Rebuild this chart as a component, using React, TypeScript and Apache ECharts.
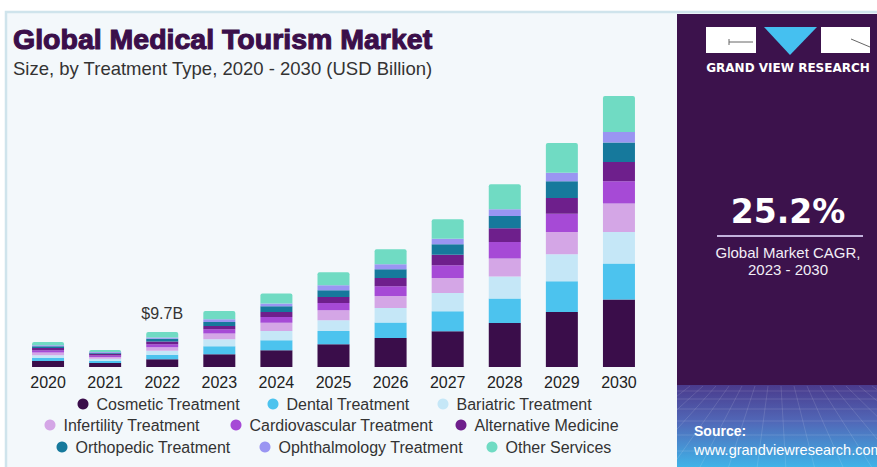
import React, { useEffect, useRef } from "react";
import * as echarts from "echarts";

const years = ["2020", "2021", "2022", "2023", "2024", "2025", "2026", "2027", "2028", "2029", "2030"];

const seriesNames = [
  "Cosmetic Treatment",
  "Dental Treatment",
  "Bariatric Treatment",
  "Infertility Treatment",
  "Cardiovascular Treatment",
  "Alternative Medicine",
  "Orthopedic Treatment",
  "Ophthalmology Treatment",
  "Other Services",
];

const cosmetic = [1.66, 1.11, 2.13, 3.52, 4.63, 6.29, 8.04, 9.89, 12.2, 15.24, 18.68];
const dental = [0.83, 0.64, 1.25, 2.22, 2.77, 3.69, 4.27, 5.54, 6.82, 8.51, 9.98];
const bariatric = [0.75, 0.55, 1.11, 1.94, 2.58, 2.97, 4.05, 5.07, 6.1, 7.48, 8.76];
const infertility = [0.75, 0.5, 0.97, 1.58, 2.3, 2.77, 3.33, 4.16, 4.99, 6.18, 7.87];
const cardiovascular = [0.64, 0.42, 0.83, 1.19, 1.58, 2.02, 2.69, 3.52, 4.52, 5.1, 6.18];
const alternative = [0.64, 0.42, 0.78, 0.91, 1.39, 1.66, 2.3, 2.97, 3.8, 4.32, 5.35];
const orthopedic = [0.47, 0.33, 0.75, 1.11, 1.58, 1.86, 2.41, 2.85, 3.41, 4.63, 5.38];
const ophthalmology = [0.28, 0.22, 0.36, 0.75, 0.75, 1.39, 1.39, 1.58, 1.86, 2.41, 2.94];
const otherServices = [0.91, 0.53, 1.52, 2.3, 2.77, 3.6, 4.16, 5.35, 6.93, 8.2, 9.98];

const seriesValues = [
  cosmetic,
  dental,
  bariatric,
  infertility,
  cardiovascular,
  alternative,
  orthopedic,
  ophthalmology,
  otherServices,
];

const colors = [
  "#3a0d4a",
  "#4cc3ee",
  "#c5e7f7",
  "#d4a6e6",
  "#a64ad6",
  "#6e1f8c",
  "#16799c",
  "#9a95f2",
  "#70dbc3",
];

const calloutText = "$9.7B";
const calloutIndex = 2;

const titleText = "Global Medical Tourism Market";
const subtitleText = "Size, by Treatment Type, 2020 - 2030 (USD Billion)";
const cagrValue = "25.2%";
const cagrLine1 = "Global Market CAGR,";
const cagrLine2 = "2023 - 2030";
const brandText = "GRAND VIEW RESEARCH";
const sourceLabel = "Source:";
const sourceUrl = "www.grandviewresearch.com";

const legendPos = [
  [83, 404],
  [273, 404],
  [443, 404],
  [50, 425],
  [236, 425],
  [461, 425],
  [62, 447],
  [265, 447],
  [492, 447],
];

export default function App() {
  const ref = useRef<HTMLDivElement>(null);

  useEffect(() => {
    if (!ref.current) return;
    const chart = echarts.init(ref.current, undefined, { renderer: "svg" });

    const series = seriesNames.map((name, i) => {
      const isTop = i === seriesNames.length - 1;
      const data = seriesValues[i].map((v, j) =>
        isTop && j === calloutIndex
          ? {
              value: v,
              label: {
                show: true,
                position: "top",
                formatter: calloutText,
                distance: 11,
                fontSize: 16,
                color: "#333333",
                fontFamily: "Liberation Sans",
              },
            }
          : v
      );
      return {
        type: "bar",
        name,
        stack: "total",
        data,
        barWidth: 32,
        itemStyle: {
          color: colors[i],
          borderRadius: isTop ? [2, 2, 0, 0] : 0,
        },
        emphasis: { disabled: true },
      };
    });

    const legends = seriesNames.map((name, i) => ({
      data: [name],
      left: legendPos[i][0] - 5.5,
      top: legendPos[i][1] - 8,
      padding: 0,
      itemWidth: 11,
      itemHeight: 11,
      icon: "circle",
      selectedMode: false,
      textStyle: {
        fontSize: 16,
        color: "#333333",
        fontFamily: "Liberation Sans",
        lineHeight: 16,
        padding: [0, 0, 0, 3],
      },
    }));

    const gridLines: any[] = [];
    const hy = [391, 399, 409, 421, 435, 451];
    hy.forEach((y) =>
      gridLines.push({
        type: "line",
        shape: { x1: 677, y1: y, x2: 877, y2: y },
        style: { stroke: "rgba(255,255,255,0.13)", lineWidth: 1 },
        z: 1,
      })
    );
    for (let k = 0; k <= 14; k++) {
      const xt = 690 + k * 13;
      const xb = 777 + (xt - 777) * 2.2;
      gridLines.push({
        type: "line",
        shape: { x1: xt, y1: 386, x2: xb, y2: 467 },
        style: { stroke: "rgba(255,255,255,0.12)", lineWidth: 1 },
        z: 1,
      });
    }

    const graphic: any[] = [
      { type: "rect", shape: { x: 0, y: 0, width: 877, height: 467 }, style: { fill: "#ffffff" }, z: -20 },
      {
        type: "rect",
        shape: { x: 6, y: 12, width: 875, height: 460 },
        style: { fill: "#f3f8fb", stroke: "#cfe4ec", lineWidth: 2.5 },
        z: -19,
      },
      { type: "rect", shape: { x: 677, y: 14, width: 200, height: 372 }, style: { fill: "#3c124c" }, z: -18 },
      {
        type: "rect",
        shape: { x: 677, y: 385, width: 200, height: 82 },
        style: {
          fill: new echarts.graphic.LinearGradient(0, 0, 0, 1, [
            { offset: 0, color: "#4a3a8c" },
            { offset: 0.45, color: "#5168b8" },
            { offset: 1, color: "#3fb3e8" },
          ]),
        },
        z: -18,
      },
      ...gridLines,
      // logo
      { type: "rect", shape: { x: 706, y: 27, width: 50, height: 26 }, style: { fill: "#ffffff" }, z: 2 },
      { type: "line", shape: { x1: 729, y1: 42, x2: 753, y2: 42 }, style: { stroke: "#666666", lineWidth: 1 }, z: 3 },
      { type: "line", shape: { x1: 729, y1: 39, x2: 729, y2: 45 }, style: { stroke: "#666666", lineWidth: 1 }, z: 3 },
      {
        type: "polygon",
        shape: { points: [[764, 27], [817, 27], [790, 55]] },
        style: { fill: "#45c0f0" },
        z: 2,
      },
      { type: "rect", shape: { x: 821, y: 27, width: 49, height: 26 }, style: { fill: "#ffffff" }, z: 2 },
      { type: "line", shape: { x1: 851, y1: 39, x2: 870, y2: 47 }, style: { stroke: "#666666", lineWidth: 1 }, z: 3 },
      {
        type: "text",
        x: 788,
        y: 68,
        style: {
          text: brandText,
          font: 'bold 12px "DejaVu Sans"',
          fill: "#ffffff",
          textAlign: "center",
          textVerticalAlign: "middle",
        },
        z: 3,
      },
      {
        type: "text",
        x: 788,
        y: 211,
        style: {
          text: cagrValue,
          font: 'bold 33px "DejaVu Sans"',
          fill: "#ffffff",
          textAlign: "center",
          textVerticalAlign: "middle",
        },
        z: 3,
      },
      { type: "line", shape: { x1: 717, y1: 236, x2: 863, y2: 236 }, style: { stroke: "#c3b2dd", lineWidth: 2 }, z: 3 },
      {
        type: "text",
        x: 788,
        y: 252,
        style: {
          text: cagrLine1,
          font: '15px "Liberation Sans"',
          fill: "#f2eef6",
          textAlign: "center",
          textVerticalAlign: "middle",
        },
        z: 3,
      },
      {
        type: "text",
        x: 788,
        y: 269,
        style: {
          text: cagrLine2,
          font: '15px "Liberation Sans"',
          fill: "#f2eef6",
          textAlign: "center",
          textVerticalAlign: "middle",
        },
        z: 3,
      },
      {
        type: "text",
        x: 694,
        y: 431,
        style: {
          text: sourceLabel,
          font: 'bold 14px "Liberation Sans"',
          fill: "#ffffff",
          textAlign: "left",
          textVerticalAlign: "middle",
        },
        z: 3,
      },
      {
        type: "text",
        x: 694,
        y: 450,
        style: {
          text: sourceUrl,
          font: '14.5px "Liberation Sans"',
          fill: "#ffffff",
          textAlign: "left",
          textVerticalAlign: "middle",
        },
        z: 3,
      },
      // titles
      {
        type: "text",
        x: 13,
        y: 39,
        style: {
          text: titleText,
          font: 'bold 28.5px "Liberation Sans"',
          fill: "#3b0f4a",
          stroke: "#3b0f4a",
          lineWidth: 1.1,
          textAlign: "left",
          textVerticalAlign: "middle",
        },
        z: 3,
      },
      {
        type: "text",
        x: 13,
        y: 68,
        style: {
          text: subtitleText,
          font: '18.5px "Liberation Sans"',
          fill: "#333333",
          textAlign: "left",
          textVerticalAlign: "middle",
        },
        z: 3,
      },
    ];

    chart.setOption({
      animation: false,
      backgroundColor: "transparent",
      grid: { left: 19.5, top: 78.4, width: 628, height: 288.6 },
      xAxis: {
        type: "category",
        data: years,
        axisLine: { show: false },
        axisTick: { show: false },
        axisLabel: { fontSize: 16, color: "#222222", margin: 7, fontFamily: "Liberation Sans" },
      },
      yAxis: { type: "value", min: 0, max: 80, show: false, splitLine: { show: false } },
      legend: legends,
      graphic,
      series,
    });

    return () => chart.dispose();
  }, []);

  return (
    <div
      ref={ref}
      style={{ position: "absolute", left: 0, top: 0, width: 877, height: 467 }}
    />
  );
}
